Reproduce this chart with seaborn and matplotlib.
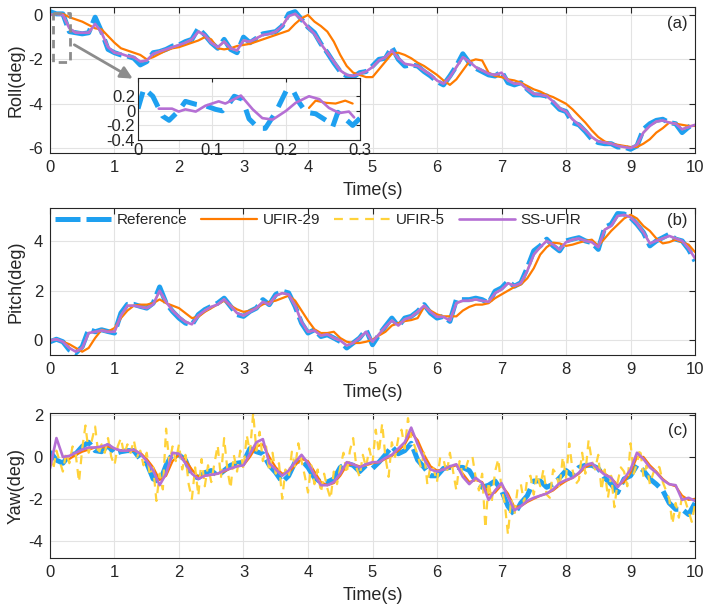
import numpy as np
import matplotlib
matplotlib.use("Agg")
import matplotlib.pyplot as plt
import seaborn as sns

# ---- data (time step 0.1 s unless noted) ----
roll_ref = [0.15, 0.05, 0.05, -0.75, -0.8, -0.85, -0.8, -0.1, -0.75, -1.55,
            -1.7, -1.8, -1.85, -1.95, -2.25, -2.1, -1.7, -1.65, -1.55, -1.4,
            -1.35, -1.2, -1.1, -0.6, -0.9, -1.25, -1.5, -1.1, -1.55, -1.7,
            -1.0, -1.25, -1.05, -0.85, -0.8, -0.75, -0.5, 0.05, 0.15, -0.2,
            -0.55, -0.8, -1.3, -1.7, -2.15, -2.55, -2.75, -2.8, -2.6, -2.55,
            -2.3, -2.0, -1.95, -1.45, -2.0, -2.3, -2.25, -2.3, -2.55, -2.75,
            -3.0, -3.15, -2.75, -2.3, -1.75, -2.15, -2.4, -2.55, -2.7, -2.75,
            -2.55, -3.05, -3.15, -3.05, -3.35, -3.6, -3.6, -3.65, -3.95, -4.25,
            -4.35, -4.85, -4.95, -5.25, -5.6, -5.75, -5.8, -5.8, -5.95, -5.95,
            -6.05, -5.9, -5.15, -4.9, -4.75, -4.7, -4.85, -4.9, -5.3, -5.05, -4.9]
roll_ss = [0.0, 0.05, 0.0, -0.6, -0.8, -0.8, -0.8, -0.4, -0.8, -1.45,
           -1.7, -1.75, -1.85, -1.9, -2.1, -2.05, -1.75, -1.65, -1.55, -1.45,
           -1.35, -1.25, -1.1, -0.75, -0.9, -1.25, -1.45, -1.2, -1.5, -1.6,
           -1.15, -1.2, -1.05, -0.9, -0.85, -0.75, -0.5, -0.05, 0.05, -0.2,
           -0.55, -0.85, -1.3, -1.7, -2.1, -2.5, -2.7, -2.75, -2.65, -2.55,
           -2.35, -2.05, -1.9, -1.6, -1.95, -2.2, -2.25, -2.3, -2.5, -2.7,
           -2.95, -3.1, -2.8, -2.35, -1.9, -2.1, -2.35, -2.5, -2.65, -2.7,
           -2.6, -2.95, -3.1, -3.1, -3.35, -3.55, -3.6, -3.65, -3.9, -4.2,
           -4.35, -4.7, -4.95, -5.2, -5.5, -5.7, -5.75, -5.8, -5.9, -5.95,
           -6.0, -5.85, -5.3, -5.0, -4.8, -4.75, -4.85, -4.9, -5.15, -5.05, -4.95]
# UFIR-29 starts at t = 0.2 s
roll_u29 = [0.05, -0.1, -0.2, -0.3, -0.45, -0.6, -0.65, -0.95,
            -1.25, -1.5, -1.6, -1.7, -1.8, -2.0, -1.9, -1.75, -1.6, -1.5,
            -1.45, -1.35, -1.25, -1.15, -1.0, -1.1, -1.5, -1.55, -1.5, -1.4,
            -1.35, -1.3, -1.2, -1.1, -1.0, -0.9, -0.8, -0.7, -0.4, -0.15,
            0.0, -0.3, -0.5, -0.75, -1.2, -1.8, -2.3, -2.6, -2.7, -2.8,
            -2.8, -2.45, -2.1, -1.75, -1.7, -1.8, -1.95, -2.15, -2.3, -2.5,
            -2.7, -2.95, -3.15, -2.9, -2.5, -2.1, -2.0, -2.05, -2.6, -2.75,
            -2.8, -2.9, -2.95, -3.05, -3.2, -3.35, -3.45, -3.6, -3.7, -3.85,
            -4.0, -4.25, -4.55, -4.85, -5.2, -5.5, -5.7, -5.8, -5.85, -5.9,
            -5.95, -5.95, -5.8, -5.6, -5.3, -5.1, -4.85, -4.9, -4.95, -5.0, -5.0]

pitch_ref = [-0.05, 0.05, -0.05, -0.38, -0.5, -0.25, 0.45, 0.35, 0.43, 0.36,
             0.3, 1.1, 1.45, 1.45, 1.37, 1.3, 1.5, 2.15, 1.5, 1.17,
             0.9, 0.7, 0.63, 1.04, 1.24, 1.37, 1.5, 1.7, 1.37, 1.04,
             0.97, 1.17, 1.3, 1.64, 1.44, 1.85, 1.98, 1.91, 1.37, 0.7,
             0.3, 0.43, 0.16, 0.23, 0.1, -0.04, -0.3, -0.1, 0.1, 0.43,
             -0.17, 0.23, 0.57, 0.9, 0.57, 0.9, 0.97, 1.17, 1.44, 1.1,
             0.9, 0.97, 0.77, 1.64, 1.64, 1.64, 1.7, 1.64, 1.5, 1.98,
             2.11, 2.38, 2.18, 2.32, 2.92, 3.6, 3.8, 4.07, 3.8, 3.6,
             4.0, 4.07, 4.13, 4.0, 3.93, 3.66, 4.54, 4.67, 5.1, 5.08,
             4.94, 4.67, 4.34, 3.8, 4.0, 4.13, 4.27, 4.07, 4.0, 3.66, 3.19]
pitch_ss = [0.0, 0.05, -0.05, -0.3, -0.45, -0.3, 0.3, 0.35, 0.4, 0.35,
            0.35, 1.0, 1.4, 1.4, 1.35, 1.3, 1.45, 2.0, 1.55, 1.2,
            0.95, 0.75, 0.65, 1.0, 1.2, 1.35, 1.45, 1.65, 1.4, 1.1,
            1.0, 1.15, 1.3, 1.55, 1.45, 1.8, 1.9, 1.85, 1.4, 0.75,
            0.35, 0.4, 0.2, 0.25, 0.1, 0.0, -0.2, -0.1, 0.1, 0.35,
            -0.05, 0.25, 0.55, 0.8, 0.6, 0.85, 0.95, 1.15, 1.4, 1.15,
            0.95, 0.95, 0.8, 1.5, 1.6, 1.6, 1.65, 1.6, 1.55, 1.9,
            2.05, 2.3, 2.2, 2.3, 2.8, 3.45, 3.75, 4.0, 3.85, 3.65,
            3.95, 4.05, 4.1, 4.0, 3.95, 3.75, 4.45, 4.6, 5.0, 5.05,
            4.95, 4.7, 4.35, 3.9, 4.0, 4.1, 4.2, 4.1, 4.0, 3.7, 3.3]
pitch_u29 = [-0.05, -0.15, -0.3, -0.45, -0.3, 0.1, 0.43, 0.36,
             0.5, 0.9, 1.2, 1.4, 1.44, 1.44, 1.5, 1.65, 1.5, 1.4,
             1.3, 1.1, 0.9, 0.95, 1.15, 1.3, 1.45, 1.6, 1.4, 1.25,
             1.15, 1.2, 1.3, 1.45, 1.55, 1.6, 1.7, 1.8, 1.6, 1.2,
             0.8, 0.45, 0.3, 0.3, 0.35, 0.1, -0.05, -0.1, -0.1, -0.05,
             0.03, 0.2, 0.35, 0.6, 0.7, 0.78, 0.82, 0.9, 1.35, 1.2,
             1.05, 0.97, 0.97, 0.97, 1.2, 1.35, 1.44, 1.44, 1.5, 1.7,
             1.85, 2.0, 2.15, 2.25, 2.5, 2.9, 3.45, 3.75, 3.93, 3.9,
             3.8, 3.85, 3.93, 4.0, 4.05, 3.8, 4.1, 4.4, 4.65, 4.9,
             5.05, 4.9, 4.6, 4.4, 4.1, 3.9, 3.95, 4.05, 3.95, 3.85, 3.55]

yaw_ref = [0.25, -0.15, -0.3, 0.1, 0.15, 0.5, 0.7, 0.3, 0.25, 0.55,
           0.15, 0.25, 0.3, 0.3, -0.1, -0.3, -1.05, -1.2, -0.4, 0.15,
           0.1, -0.15, -0.9, -1.0, -0.75, -0.65, -0.9, -0.65, -0.4, -0.3,
           -0.25, 0.4, 0.25, 0.15, -0.4, -0.75, -1.2, -0.9, -0.25, -0.15,
           -0.5, -1.0, -1.2, -1.2, -1.05, -0.5, -0.3, -0.4, -0.7, -0.4,
           -0.55, -0.25, 0.1, 0.5, 0.15, 0.3, 0.65, -0.15, -0.5, -0.9,
           -0.9, -0.55, -0.5, -0.5, -0.5, -0.65, -1.15, -1.45, -1.35, -1.15,
           -1.6, -2.35, -2.75, -2.2, -1.85, -1.15, -1.15, -1.45, -1.3, -1.0,
           -0.65, -0.9, -0.5, -0.4, -0.4, -0.55, -1.0, -1.3, -1.7, -1.05,
           -0.9, -0.4, -0.65, -1.05, -1.3, -1.6, -2.2, -2.5, -2.5, -2.75, -2.2]
yaw_ss = [-0.55, 0.9, 0.0, 0.05, 0.2, 0.35, 0.45, 0.45, 0.5, 0.6,
          0.4, 0.3, 0.3, 0.35, 0.15, -0.2, -0.65, -1.35, -0.8, 0.2,
          0.15, -0.3, -0.8, -1.05, -0.9, -0.85, -0.8, -0.65, -0.55, -0.45,
          -0.4, 0.15, 0.7, 0.85, -0.3, -0.6, -0.9, -0.65, -0.25, 0.1,
          -0.3, -0.85, -1.35, -1.35, -1.2, -0.8, -0.25, -0.35, -0.5, -0.35,
          -0.25, -0.25, -0.05, 0.1, 0.4, 0.7, 1.4, 0.6, -0.1, -0.6,
          -0.7, -0.6, -0.45, -0.35, -0.95, -1.3, -1.0, -1.25, -2.05, -1.6,
          -1.25, -1.9, -2.55, -2.35, -2.1, -1.95, -1.85, -1.75, -1.55, -1.25,
          -1.1, -1.0, -0.75, -0.4, -0.3, -0.6, -0.85, -1.0, -1.45, -1.05,
          -0.6, 0.2, -0.1, -0.5, -0.75, -1.1, -1.3, -1.35, -2.05, -1.95, -2.1]
yaw_u29 = [0.0, -0.1, 0.1, 0.25, 0.35, 0.45, 0.45, 0.5,
           0.4, 0.3, 0.3, 0.3, 0.2, -0.1, -0.5, -1.1, -0.9, -0.2,
           0.1, -0.15, -0.6, -0.95, -0.9, -0.85, -0.8, -0.7, -0.55, -0.45,
           -0.4, 0.0, 0.5, 0.6, 0.0, -0.5, -0.8, -0.75, -0.4, -0.1,
           -0.2, -0.7, -1.2, -1.35, -1.25, -0.9, -0.4, -0.35, -0.45, -0.4,
           -0.3, -0.25, -0.1, 0.05, 0.3, 0.6, 1.15, 0.8, 0.1, -0.45,
           -0.65, -0.6, -0.5, -0.4, -0.8, -1.2, -1.1, -1.2, -1.8, -1.7,
           -1.35, -1.75, -2.4, -2.35, -2.15, -2.0, -1.85, -1.75, -1.6, -1.35,
           -1.15, -1.0, -0.8, -0.5, -0.35, -0.55, -0.8, -1.0, -1.35, -1.2,
           -0.75, 0.0, 0.0, -0.4, -0.7, -1.05, -1.3, -1.4, -1.85, -2.05, -2.0]
# UFIR-5 yaw, time step 0.05 s
yaw_u5 = [0.0, -0.6, 0.3, -0.2, -0.7, 0.2, -0.3, 0.5, 0.1, -1.2,
          0.4, 1.5, 0.2, 0.8, 1.45, 0.1, 0.6, 0.2, 0.9, 0.0,
          -0.4, 0.5, 0.9, 0.1, 0.6, 0.2, 0.8, 0.0, 0.3, -0.4,
          0.2, -0.9, -0.5, -2.1, -0.8, -1.55, 1.35, -0.3, 0.5, -0.2,
          0.6, -0.6, 0.1, -1.3, -2.0, -0.5, -1.85, -0.1, -1.4, -0.4,
          -1.2, -0.3, 0.55, -1.0, 0.9, -0.6, -1.5, 0.1, -0.7, 0.3,
          -0.6, 1.05, 0.2, 2.1, 0.3, 1.2, -0.2, 0.5, -0.7, 0.2,
          -0.8, -0.3, -2.0, -0.6, -1.0, 0.25, -0.5, 0.65, -0.2, -0.9,
          -1.7, -0.4, -1.3, -0.6, -1.7, -0.8, -1.5, -2.0, -0.7, -1.3,
          -0.5, 0.2, -0.8, 0.3, 0.9, -0.5, -0.95, 0.1, -0.5, 0.4,
          -0.3, 1.3, 0.2, 1.6, 0.0, -0.95, 0.7, 0.0, 0.9, 1.3,
          0.4, 1.85, 0.9, 0.55, 0.1, -0.5, 0.2, -1.3, -0.4, -0.6,
          -1.2, 0.0, -0.1, -0.8, 0.2, -0.7, -1.6, -0.2, -0.9, -0.5,
          0.0, 0.0, -1.0, -1.6, -0.8, -3.4, -1.2, -2.1, -0.7, -0.1,
          -1.5, -2.2, -3.7, -2.0, -2.75, -1.5, -1.3, -2.2, -1.0, -0.9,
          -1.8, -0.8, -1.4, -0.6, -1.8, -1.95, -0.6, -0.8, -1.5, 0.0,
          -1.0, 0.65, -0.6, -1.3, -1.1, 0.2, -0.8, 0.8, -0.2, -0.6,
          0.1, -1.6, -0.6, -1.95, -0.9, -2.4, -1.2, -0.5, -0.7, -1.4,
          0.65, -0.8, -0.3, 0.4, -0.95, -0.4, -1.3, -0.8, -0.4, -0.5,
          -1.2, -1.6, -2.0, -3.2, -2.2, -2.9, -1.8, -2.1, -2.6, -3.1, -2.25]

# zoomed inset of roll, first 0.3 s
inset_t_ref = [0.0, 0.008, 0.02, 0.033, 0.042, 0.055, 0.064, 0.078, 0.091, 0.105,
               0.114, 0.122, 0.13, 0.141, 0.15, 0.163, 0.172, 0.186, 0.2, 0.209,
               0.218, 0.227, 0.24, 0.254, 0.263, 0.27, 0.29, 0.3]
inset_ref = [0.03, 0.31, 0.2, -0.07, -0.13, 0.0, 0.13, 0.09, 0.07, 0.02,
             0.0, 0.08, 0.2, 0.16, -0.11, -0.24, -0.24, -0.02, 0.27, 0.29,
             0.11, -0.02, -0.04, -0.13, -0.22, -0.02, -0.2, -0.1]
inset_t_ss = [0.028, 0.046, 0.055, 0.064, 0.078, 0.091, 0.109, 0.118, 0.13, 0.139,
              0.155, 0.168, 0.182, 0.2, 0.213, 0.231, 0.245, 0.258, 0.272, 0.285, 0.292]
inset_ss = [0.03, 0.03, -0.01, 0.02, -0.01, 0.07, 0.13, 0.1, 0.16, 0.21,
            0.02, -0.1, -0.12, 0.0, 0.11, 0.2, 0.16, 0.04, -0.03, -0.01, -0.09]
inset_t_u29 = [0.231, 0.24, 0.254, 0.267, 0.28, 0.29]
inset_u29 = [0.04, 0.14, 0.11, 0.1, 0.14, 0.1]

c_ref = "#1ea0f0"
c_u29 = "#ff7b00"
c_u5 = "#ffd23a"
c_ss = "#b56fd4"

sns.set_style("white")
plt.rcParams["font.family"] = ["Liberation Sans", "DejaVu Sans"]
plt.rcParams["axes.unicode_minus"] = False


def style_axes(ax, ylim, yticks, fs=12):
    ax.set_xlim(0, 10)
    ax.set_ylim(*ylim)
    ax.set_xticks(range(0, 11))
    ax.set_yticks(yticks)
    ax.grid(True, color="#e3e3e3", linewidth=0.8)
    ax.set_axisbelow(True)
    for s in ax.spines.values():
        s.set_color("#262626")
        s.set_linewidth(0.8)
    ax.tick_params(direction="in", top=True, right=True, length=4, width=0.8,
                   colors="#262626", labelsize=fs, pad=5)
    ax.set_xlabel("Time(s)", fontsize=13, color="#262626")
    ax.xaxis.set_label_coords(0.5, -0.2)


def draw(ax, t, vals, color, lw, ls):
    sns.lineplot(x=t, y=vals, ax=ax, color=color, linewidth=lw, linestyle=ls,
                 errorbar=None, sort=False, legend=False)
    return ax.lines[-1]


t10 = np.round(np.linspace(0, 10, len(roll_ref)), 2)
t29 = np.round(np.linspace(0.2, 10, len(roll_u29)), 2)
t05 = np.round(np.linspace(0, 10, len(yaw_u5)), 3)

fig = plt.figure(figsize=(7.1, 6.13), dpi=100)
ax_a = fig.add_axes([0.0704, 0.7504, 0.9085, 0.2382])
ax_b = fig.add_axes([0.0704, 0.4214, 0.9085, 0.2388])
ax_c = fig.add_axes([0.0704, 0.0892, 0.9085, 0.2365])

ref_ls = (0, (5, 1.2))
u5_ls = (0, (4, 3))

panels = [
    (ax_a, roll_ref, roll_u29, t10, roll_ss, roll_ss, "Roll(deg)", (-6.22, 0.36), [-6, -4, -2, 0], "(a)", 0.89),
    (ax_b, pitch_ref, pitch_u29, t10, pitch_ss, pitch_ss, "Pitch(deg)", (-0.57, 5.31), [0, 2, 4], "(b)", 0.918),
    (ax_c, yaw_ref, yaw_u29, t05, yaw_u5, yaw_ss, "Yaw(deg)", (-4.84, 2.08), [-4, -2, 0, 2], "(c)", 0.883),
]
handles = None
for ax, ref, u29, tu5, u5, ss, ylab, ylim, yt, tag, ty in panels:
    h1 = draw(ax, t10, ref, c_ref, 3.6, ref_ls)
    h2 = draw(ax, t29, u29, c_u29, 1.6, "-")
    # UFIR-5 lies under the SS-UFIR trace in roll and pitch
    h3 = draw(ax, tu5, u5, c_u5, 1.6, u5_ls)
    h4 = draw(ax, t10, ss, c_ss, 1.9, "-")
    style_axes(ax, ylim, yt)
    ax.set_ylabel(ylab, fontsize=13, color="#262626")
    ax.yaxis.set_label_coords(-0.04, 0.5)
    ax.text(0.989, ty, tag, transform=ax.transAxes, ha="right", va="center",
            fontsize=12, color="#262626")
    if tag == "(b)":
        handles = [h1, h2, h3, h4]

ax_b.legend(handles, ["Reference", "UFIR-29", "UFIR-5", "SS-UFIR"], ncol=4,
            loc="upper left", bbox_to_anchor=(0.0, 1.0), frameon=False,
            fontsize=11, handlelength=3.7, handletextpad=0.35,
            columnspacing=0.9, borderaxespad=0.0, borderpad=0.3)

# zoom box and arrow in panel (a)
ax_a.plot([0.05, 0.31, 0.31, 0.05, 0.05], [0.1, 0.1, -2.1, -2.1, 0.1],
          color="#8c8c8c", linewidth=2, linestyle=(0, (3, 2)), zorder=5)
ax_a.annotate("", xy=(1.32, -2.93), xytext=(0.34, -1.28),
              arrowprops=dict(arrowstyle="-|>", color="#8c8c8c", lw=2,
                              mutation_scale=18), zorder=6)

ins = fig.add_axes([0.1944, 0.7716, 0.3127, 0.1011])
ins.set_facecolor("white")
draw(ins, inset_t_ref, inset_ref, c_ref, 3.6, (0, (3.5, 2)))
draw(ins, inset_t_u29, inset_u29, c_u29, 1.6, "-")
draw(ins, inset_t_ss, inset_ss, c_ss, 1.9, "-")
ins.set_xlim(0, 0.3)
ins.set_ylim(-0.4, 0.45)
ins.set_xticks([0, 0.1, 0.2, 0.3])
ins.set_xticklabels(["0", "0.1", "0.2", "0.3"])
ins.set_yticks([-0.4, -0.2, 0, 0.2])
ins.set_yticklabels(["-0.4", "-0.2", "0", "0.2"])
ins.grid(True, color="#e3e3e3", linewidth=0.8)
ins.set_axisbelow(True)
for s in ins.spines.values():
    s.set_color("#262626")
    s.set_linewidth(0.8)
ins.tick_params(direction="in", top=True, right=True, length=3, width=0.8,
                colors="#262626", labelsize=12, pad=2)
ins.set_xlabel("")
ins.set_ylabel("")

fig.savefig("out.png", dpi=100)
